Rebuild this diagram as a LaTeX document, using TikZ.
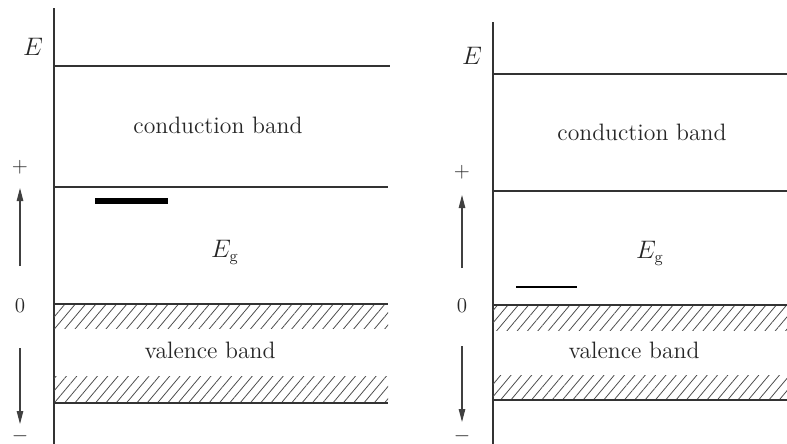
\documentclass[tikz,border=0pt]{standalone}
\usepackage{amsmath,amssymb}
\usepackage{xcolor}
\usepackage{tikz}
\usetikzlibrary{arrows.meta,patterns.meta}
\tikzset{
  axisline/.style={draw=black!80, line width=1.1pt},
  bandedge/.style={draw=black!80, line width=1.1pt},
  hatch/.style={pattern={Lines[angle=50,distance=4.5pt,line width=0.45pt]}, pattern color=black!70},
  level/.style={draw=black, line cap=butt},
  sgn/.style={-{Triangle[length=2.6mm,width=1.3mm]}, draw=black!75, line width=0.6pt},
  lbl/.style={text=black!85, inner sep=1pt, font=\fontsize{13.5}{15}\selectfont},
  tick/.style={text=black!85, inner sep=1pt, font=\fontsize{12}{14}\selectfont},
}

\begin{document}
\begin{tikzpicture}[x=0.02cm, y=-0.02cm]
\useasboundingbox (0,0) rectangle (787,443);
% left panel
\coordinate (la0) at (54,8);
\coordinate (la1) at (54,450);
\draw[axisline] (la0) -- (la1);
\node[lbl] (lE) at (33,47) {$E$};
\coordinate (lc0) at (54,66);
\coordinate (lc1) at (390,66);
\coordinate (lb0) at (54,187);
\coordinate (lb1) at (388,187);
\coordinate (lv0) at (54,304);
\coordinate (lv1) at (388,304);
\coordinate (lw0) at (54,403);
\coordinate (lw1) at (388,403);
\fill[hatch] (54,304) rectangle (388,328);
\fill[hatch] (54,376) rectangle (388,403);
\draw[bandedge] (lc0) -- (lc1);
\draw[bandedge] (lb0) -- (lb1);
\draw[bandedge] (lv0) -- (lv1);
\draw[bandedge] (lw0) -- (lw1);
\node[lbl] (lcb) at (218,125) {conduction band};
\node[lbl] (lvb) at (210,350) {valence band};
\node[lbl] (lEg) at (225,252) {$E_{\mathrm{g}}$};
\coordinate (ld0) at (95,201);
\coordinate (ld1) at (168,201);
\draw[level, line width=3pt] (ld0) -- (ld1);
\node[tick] (lplus) at (20,167) {$+$};
\node[tick] (lzero) at (20,306) {0};
\node[tick] (lminus) at (20,436) {$-$};
\coordinate (lu0) at (20,266);
\coordinate (lu1) at (20,188);
\coordinate (ln0) at (20,348);
\coordinate (ln1) at (20,424);
\draw[sgn] (lu0) -- (lu1);
\draw[sgn] (ln0) -- (ln1);
% right panel
\coordinate (ra0) at (493,22);
\coordinate (ra1) at (493,450);
\draw[axisline] (ra0) -- (ra1);
\node[lbl] (rE) at (472,56) {$E$};
\coordinate (rc0) at (493,74);
\coordinate (rc1) at (787,74);
\coordinate (rb0) at (493,191);
\coordinate (rb1) at (787,191);
\coordinate (rv0) at (493,305);
\coordinate (rv1) at (787,305);
\coordinate (rw0) at (493,400);
\coordinate (rw1) at (787,400);
\fill[hatch] (493,305) rectangle (787,330);
\fill[hatch] (493,375) rectangle (787,400);
\draw[bandedge] (rc0) -- (rc1);
\draw[bandedge] (rb0) -- (rb1);
\draw[bandedge] (rv0) -- (rv1);
\draw[bandedge] (rw0) -- (rw1);
\node[lbl] (rcb) at (642,132) {conduction band};
\node[lbl] (rvb) at (634,350) {valence band};
\node[lbl] (rEg) at (650,253) {$E_{\mathrm{g}}$};
\coordinate (rd0) at (516,287);
\coordinate (rd1) at (577,287);
\draw[level, line width=1.5pt] (rd0) -- (rd1);
\node[tick] (rplus) at (462,172) {$+$};
\node[tick] (rzero) at (462,306) {0};
\node[tick] (rminus) at (462,436) {$-$};
\coordinate (ru0) at (462,268);
\coordinate (ru1) at (462,195);
\coordinate (rn0) at (462,346);
\coordinate (rn1) at (462,422);
\draw[sgn] (ru0) -- (ru1);
\draw[sgn] (rn0) -- (rn1);
\end{tikzpicture}
\end{document}
